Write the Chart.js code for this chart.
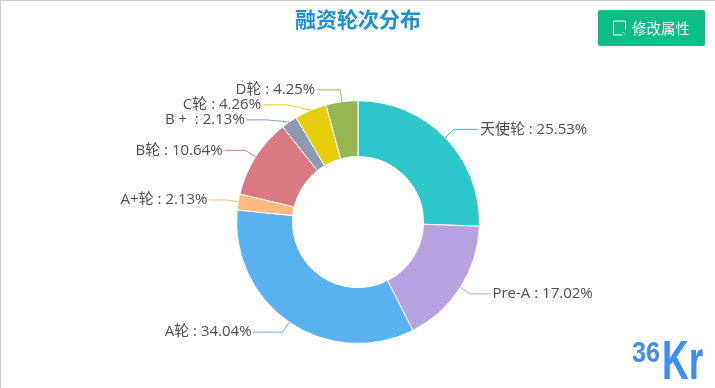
<!DOCTYPE html>
<html>
<head>
<meta charset="utf-8">
<title>融资轮次分布</title>
<script src="https://cdn.jsdelivr.net/npm/chart.js@4/dist/chart.umd.min.js"></script>
<style>
  html, body { margin: 0; padding: 0; background: #fff; }
  #wrap { position: relative; width: 715px; height: 388px; overflow: hidden; font-family: "Noto Sans CJK SC", sans-serif; }
  #wrap canvas { position: absolute; left: 0; top: 0; }
  #edge { position: absolute; left: 0; top: 0; width: 714px; height: 387px; border-top: 1px solid #ccc; border-left: 1px solid #ccc; }
  #btn { position: absolute; left: 598px; top: 10px; width: 107px; height: 36px; background: #0abf85; border-radius: 2px; color: #fff; font-size: 14.5px; line-height: 36px; text-align: left; }
  #btn svg { position: absolute; left: 14px; top: 10px; }
  #btn span { position: absolute; left: 34px; }
  #logo { position: absolute; left: 0; top: 0; color: #3f8cf6; font-family: "Liberation Sans", sans-serif; font-weight: bold; }
  #logo span { position: absolute; transform-origin: left center; white-space: nowrap; }
  #logo .n { left: 632px; top: 335px; font-size: 29px; line-height: 34px; transform: scaleX(0.87); }
  #logo .k { left: 662px; top: 332px; font-size: 56px; line-height: 56px; transform: scaleX(0.66); }
</style>
</head>
<body>
<div id="wrap">
  <canvas id="myChart" width="715" height="388"></canvas>
  <div id="edge"></div>
  <div id="btn">
    <svg width="16" height="16" viewBox="0 0 16 16"><path d="M13.5 10V2a1 1 0 0 0-1-1h-10a1 1 0 0 0-1 1v12a1 1 0 0 0 1 1h8M11 12l3 3" fill="none" stroke="#fff" stroke-width="1"/></svg>
    <span>修改属性</span>
  </div>
  <div id="logo"><span class="n">36</span><span class="k">Kr</span></div>
</div>
<script>
const categories = ['天使轮', 'Pre-A', 'A轮', 'A+轮', 'B轮', 'B + ', 'C轮', 'D轮'];
const shares = [25.53, 17.02, 34.04, 2.13, 10.64, 2.13, 4.26, 4.25];
const colors = ['#2ec7c9', '#b6a2de', '#5ab1ef', '#ffb980', '#d87a80', '#8d98b3', '#e5cf0d', '#97b552'];

// horizontal part of each leader line
const leaderRun = [24, 20, 29, 17, 21, 20, 24, 23];

// leader lines + labels, pushes crowded labels apart the way echarts does
const leaderLabels = {
  id: 'leaderLabels',
  afterDatasetsDraw(chart) {
    const ctx = chart.ctx;
    const arcs = chart.getDatasetMeta(0).data;
    const items = arcs.map((arc, i) => {
      const mid = (arc.startAngle + arc.endAngle) / 2;
      const r = arc.outerRadius;
      return {
        i, arc,
        x0: arc.x + Math.cos(mid) * r,
        y0: arc.y + Math.sin(mid) * r,
        x1: arc.x + Math.cos(mid) * (r + 12),
        y1: arc.y + Math.sin(mid) * (r + 12),
        right: Math.cos(mid) >= 0,
      };
    });
    const left = items.filter((it) => !it.right).sort((a, b) => a.y1 - b.y1);
    for (let k = 1; k < left.length; k++) {
      const gap = left[k].y1 - left[k - 1].y1;
      if (gap < 15) {
        left[k].y1 = left[k - 1].y1 + 15;
        const dy = left[k].y1 - left[k].arc.y;
        left[k].x1 = left[k].arc.x - Math.sqrt(Math.max(137 * 137 - dy * dy, 0));
      }
    }
    ctx.save();
    ctx.font = '15px "Open Sans", "Noto Sans CJK SC", sans-serif';
    ctx.textBaseline = 'middle';
    items.forEach((it) => {
      const dir = it.right ? 1 : -1;
      const x2 = it.x1 + dir * leaderRun[it.i];
      ctx.strokeStyle = colors[it.i];
      ctx.lineWidth = 1;
      ctx.beginPath();
      ctx.moveTo(it.x0, it.y0);
      ctx.lineTo(it.x1, it.y1);
      ctx.lineTo(x2, it.y1);
      ctx.stroke();
      ctx.fillStyle = '#4d4d4d';
      ctx.textAlign = it.right ? 'left' : 'right';
      ctx.fillText(categories[it.i] + ' : ' + shares[it.i].toFixed(2) + '%', x2 + dir * 2, it.y1);
    });
    ctx.restore();
  },
};

const context = document.getElementById('myChart').getContext('2d');
const myChart = new Chart(context, {
  type: 'doughnut',
  data: {
    labels: categories,
    datasets: [{
      data: shares,
      backgroundColor: colors,
      borderColor: '#fff',
      borderWidth: 1,
    }],
  },
  options: {
    responsive: false,
    animation: false,
    cutout: '54%',
    layout: { padding: { top: 0, bottom: 44, left: 1 } },
    plugins: {
      legend: { display: false },
      tooltip: { enabled: false },
      title: {
        display: true,
        text: '融资轮次分布',
        color: '#1a8fd6',
        font: { size: 21, weight: 'bold', family: '"Noto Sans CJK SC", sans-serif' },
        padding: { top: 6, bottom: 69 },
      },
    },
  },
  plugins: [leaderLabels],
});
</script>
</body>
</html>
